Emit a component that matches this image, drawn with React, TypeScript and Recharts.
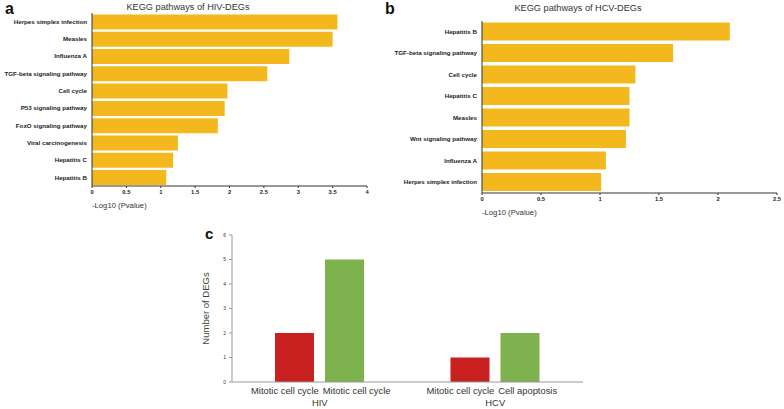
import React from 'react';
import { BarChart, Bar, XAxis, YAxis } from 'recharts';

// Panel a: KEGG pathways of HIV-DEGs
const hivPathways = [
  'Herpes simplex infection',
  'Measles',
  'Influenza A',
  'TGF-beta signaling pathway',
  'Cell cycle',
  'P53 signaling pathway',
  'FoxO signaling pathway',
  'Viral carcinogenesis',
  'Hepatitis C',
  'Hepatitis B',
];
const hivLogP = [3.57, 3.5, 2.87, 2.55, 1.97, 1.93, 1.83, 1.25, 1.18, 1.08];
const hivTicks = [0, 0.5, 1, 1.5, 2, 2.5, 3, 3.5, 4];

// Panel b: KEGG pathways of HCV-DEGs
const hcvPathways = [
  'Hepatitis B',
  'TGF-beta signaling pathway',
  'Cell cycle',
  'Hepatitis C',
  'Measles',
  'Wnt signaling pathway',
  'Influenza A',
  'Herpes simplex infection',
];
const hcvLogP = [2.1, 1.62, 1.3, 1.25, 1.25, 1.22, 1.05, 1.01];
const hcvTicks = [0, 0.5, 1, 1.5, 2, 2.5];

// Panel c: number of DEGs
const groups = ['HIV', 'HCV'];
const firstProcess = ['Mitotic cell cycle', 'Mitotic cell cycle'];
const secondProcess = ['Mitotic cell cycle', 'Cell apoptosis'];
const firstCount = [2, 1];
const secondCount = [5, 2];
const countTicks = [0, 1, 2, 3, 4, 5, 6];

const FONT = '"Liberation Sans", Arial, sans-serif';
const YELLOW = '#F2B81D';
const RED = '#C9211F';
const GREEN = '#7DB24F';
const AXIS = '#333';

const hivData = hivPathways.map((name, i) => ({ name, value: hivLogP[i] }));
const hcvData = hcvPathways.map((name, i) => ({ name, value: hcvLogP[i] }));
const degData = groups.map((group, i) => ({ group, first: firstCount[i], second: secondCount[i] }));

const BAR_SIZE = 39;
const BAR_GAP = 11;

const pvalueLabel = (props: any) => {
  const vb = props.viewBox;
  return (
    <text x={vb.x} y={vb.y + 22} fontSize={7.7} fill="#333" fontFamily={FONT}>
      -Log10 (Pvalue)
    </text>
  );
};

// plain tick text, no wrapping
const PathwayTick = (props: any) => {
  const { x, y, payload } = props;
  return (
    <text x={x - 5} y={y} dy="0.35em" textAnchor="end" fontSize={6.2} fontWeight={700} fill="#222" fontFamily={FONT}>
      {payload.value}
    </text>
  );
};

const GroupTick = (props: any) => {
  const { x, y, payload } = props;
  const i = payload.index;
  return (
    <g>
      <text x={x - 1} y={y + 12} textAnchor="end" fontSize={9.4} fill="#333" fontFamily={FONT}>
        {firstProcess[i]}
      </text>
      <text x={x + 3} y={y + 12} textAnchor="start" fontSize={9.4} fill="#333" fontFamily={FONT}>
        {secondProcess[i]}
      </text>
      <text x={x} y={y + 24} textAnchor="middle" fontSize={9.4} fill="#333" fontFamily={FONT}>
        {payload.value}
      </text>
    </g>
  );
};

const valueTick = { fontSize: 5.8, fill: '#222', fontWeight: 700, fontFamily: FONT };

export default function App() {
  return (
    <div style={{ position: 'absolute', left: 0, top: 0, width: 784, height: 409, background: '#fff', fontFamily: FONT }}>
      <div style={{ position: 'absolute', left: 0, top: 0 }}>
        <BarChart width={400} height={215} data={hivData} layout="vertical" barCategoryGap="8%"
          margin={{ top: 13, right: 33, bottom: 0, left: 0 }}>
          <XAxis type="number" domain={[0, 4]} ticks={hivTicks} height={29} stroke={AXIS}
            tickSize={2} tickMargin={2} tick={valueTick} label={pvalueLabel} />
          <YAxis type="category" dataKey="name" width={92} stroke={AXIS}
            tickSize={0} tickMargin={0} tick={<PathwayTick />} interval={0} />
          <Bar dataKey="value" fill={YELLOW} isAnimationActive={false} />
        </BarChart>
      </div>

      <div style={{ position: 'absolute', left: 390, top: 0 }}>
        <BarChart width={394} height={220} data={hcvData} layout="vertical" barCategoryGap="7%"
          margin={{ top: 21, right: 7, bottom: 0, left: 0 }}>
          <XAxis type="number" domain={[0, 2.5]} ticks={hcvTicks} height={27} stroke={AXIS}
            tickSize={2} tickMargin={2} tick={valueTick} label={pvalueLabel} />
          <YAxis type="category" dataKey="name" width={92} stroke={AXIS}
            tickSize={0} tickMargin={0} tick={<PathwayTick />} interval={0} />
          <Bar dataKey="value" fill={YELLOW} isAnimationActive={false} />
        </BarChart>
      </div>

      <div style={{ position: 'absolute', left: 190, top: 225 }}>
        <BarChart width={400} height={184} data={degData} barSize={BAR_SIZE} barGap={BAR_GAP}
          margin={{ top: 10, right: 7, bottom: 0, left: 0 }}>
          <XAxis dataKey="group" height={27} stroke="#999" tickLine={false} tickSize={0} tickMargin={0}
            tick={<GroupTick />} interval={0} />
          <YAxis type="number" domain={[0, 6]} ticks={countTicks} width={42} stroke="#999"
            tickSize={3} tickMargin={3} tick={{ fontSize: 5, fill: '#333', fontFamily: FONT }}
            label={{ value: 'Number of DEGs', angle: -90, position: 'insideLeft', offset: 16,
              style: { fontSize: 9.5, fill: '#444', fontFamily: FONT, textAnchor: 'middle' } }} />
          <Bar dataKey="first" fill={RED} isAnimationActive={false} />
          <Bar dataKey="second" fill={GREEN} isAnimationActive={false} />
        </BarChart>
      </div>

      <svg width={784} height={409} style={{ position: 'absolute', left: 0, top: 0, pointerEvents: 'none' }}>
        <text x={188} y={9.5} textAnchor="middle" fontSize={9.2} fill="#333" fontFamily={FONT}>
          KEGG pathways of HIV-DEGs
        </text>
        <text x={578} y={11} textAnchor="middle" fontSize={9.2} fill="#333" fontFamily={FONT}>
          KEGG pathways of HCV-DEGs
        </text>
        <text x={5} y={13.5} fontSize={16} fontWeight={700} fill="#111" fontFamily={FONT}>a</text>
        <text x={385} y={13.5} fontSize={16} fontWeight={700} fill="#111" fontFamily={FONT}>b</text>
        <text x={205} y={239} fontSize={15} fontWeight={700} fill="#111" fontFamily={FONT}>c</text>
      </svg>
    </div>
  );
}
